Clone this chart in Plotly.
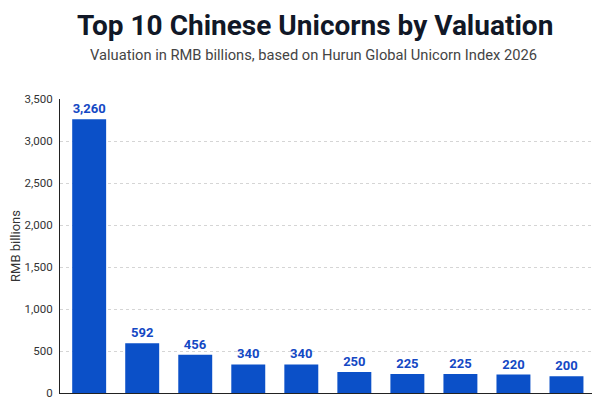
import plotly.graph_objects as go

# data
ranks = ["1", "2", "3", "4", "5", "6", "7", "8", "9", "10"]
valuations = [3260, 592, 456, 340, 340, 250, 225, 225, 220, 200]
y_ticks = [0, 500, 1000, 1500, 2000, 2500, 3000, 3500]
y_tick_text = ["0", "500", "1,000", "1,500", "2,000", "2,500", "3,000", "3,500"]

bar_color = "#0b50c8"

fig = go.Figure()
fig.add_trace(go.Bar(
    x=ranks,
    y=valuations,
    marker=dict(color=bar_color, line=dict(width=0)),
    text=[f"<b>{v:,}</b>" for v in valuations],
    textposition="outside",
    textfont=dict(color="#1448c4", size=13, family="Roboto"),
    cliponaxis=False,
))

fig.update_layout(
    width=600, height=400,
    margin=dict(l=52, r=15, t=91, b=15),
    paper_bgcolor="white",
    plot_bgcolor="white",
    font=dict(family="Roboto", color="#333"),
    showlegend=False,
    bargap=0.36,
    title=dict(
        text="<b>Top 10 Chinese Unicorns by Valuation</b>",
        x=0.512, xanchor="center", y=0.957, yanchor="middle",
        font=dict(size=28, color="#111827", family="Roboto"),
    ),
)
fig.add_annotation(
    text="Valuation in RMB billions, based on Hurun Global Unicorn Index 2026",
    xref="paper", yref="paper", x=0.475, y=1.0, yshift=44,
    xanchor="center", yanchor="middle", showarrow=False,
    font=dict(size=14.7, color="#444"),
)
fig.update_xaxes(
    showticklabels=False, showgrid=False,
    range=[-0.55, 9.5],
    showline=True, linecolor="#222", linewidth=1,
    ticks="", automargin=False,
)
fig.update_yaxes(
    range=[0, 3500],
    tickvals=y_ticks, ticktext=y_tick_text,
    tickfont=dict(size=11.5, color="#333"),
    ticks="", ticklabelstandoff=4,
    showgrid=True, gridcolor="#d5d5d5", griddash="dot", gridwidth=1,
    showline=True, linecolor="#222", linewidth=1,
    zeroline=False, automargin=False,
    title=dict(text="RMB billions", font=dict(size=13, color="#333"), standoff=9),
)

fig.write_html("out.html")
